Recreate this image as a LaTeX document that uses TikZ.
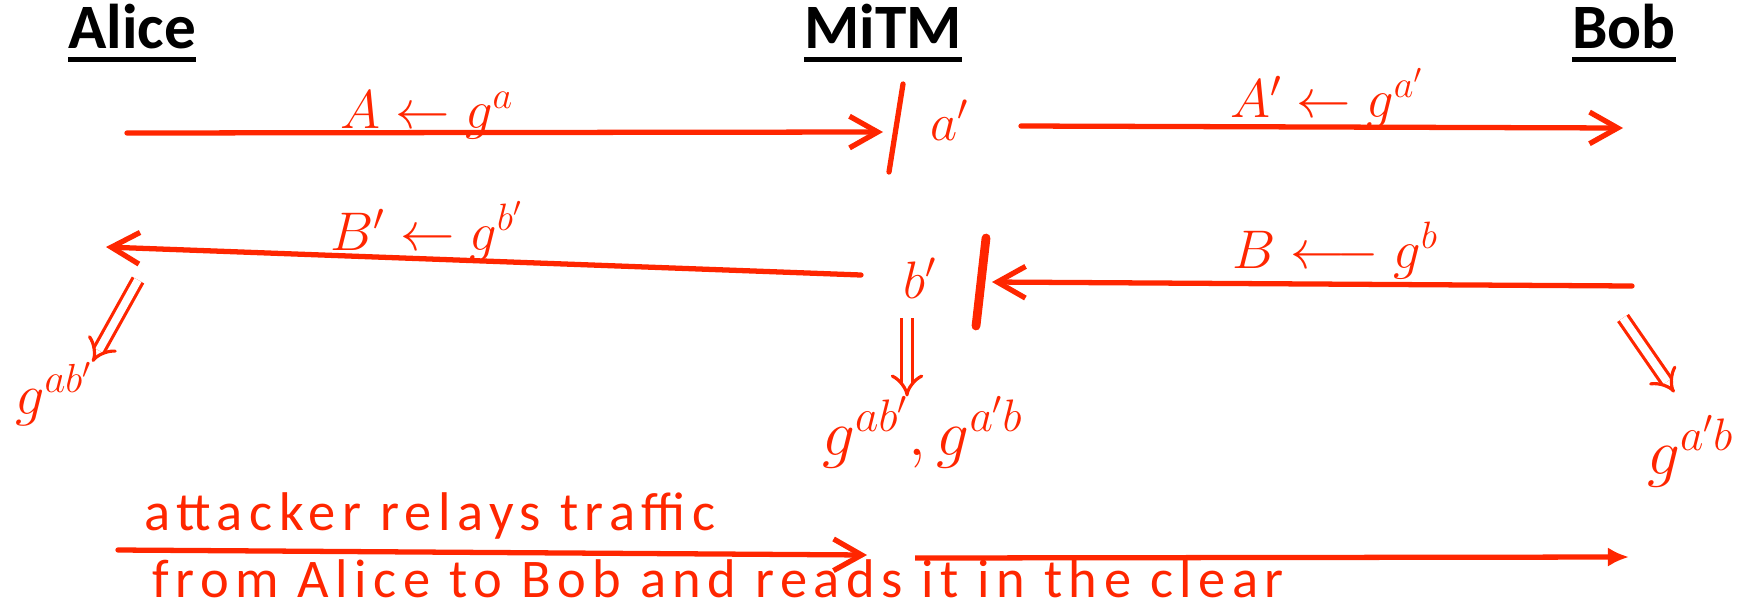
\documentclass[tikz,border=0pt]{standalone}
\usepackage{fix-cm}
\usepackage{fontspec}
\setmainfont{Carlito}
\usetikzlibrary{arrows.meta}
\definecolor{penRed}{RGB}{255,38,0}

\begin{document}
\begin{tikzpicture}[x=0.02cm, y=-0.02cm,
  head/.style={font=\fontsize{36}{40}\selectfont\bfseries, anchor=base west, inner sep=0pt},
  uline/.style={line width=3pt},
  ink/.style={text=penRed, font=\fontsize{31}{37}\selectfont, anchor=base west, inner sep=0pt},
  key/.style={ink, font=\fontsize{30}{36}\selectfont},
  shared/.style={ink, font=\fontsize{37}{42}\selectfont},
  note/.style={text=penRed, font=\fontsize{31}{37}\selectfont\addfontfeature{LetterSpace=12}, anchor=base west, inner sep=0pt},
  msg/.style={draw=penRed, line width=3pt, line cap=round, -{Straight Barb[length=16pt,width=18pt]}},
  cut/.style={draw=penRed, line width=3pt, line cap=round},
  derive/.style={draw=penRed, line width=1.8pt, double distance=4.5pt, -{Implies}},
]
  \useasboundingbox (0,0) rectangle (1763,613);

  % parties
  \node[head] (alice) at (68,48)   {Alice};
  \node[head] (mitm)  at (804,48)  {MiTM};
  \node[head] (bob)   at (1572,48) {Bob};
  \foreach \p in {alice, mitm, bob}
    \draw[uline] ([yshift=-6.5pt]\p.base west) -- ([yshift=-6.5pt]\p.base east);

  % exchange with Alice
  \coordinate (aliceOut) at (127,133);
  \coordinate (mitmIn)   at (883,132);
  \coordinate (mitmOut)  at (861,275);
  \coordinate (aliceIn)  at (106,247);
  \node[ink] (sendA)  at (340,128) {$A \leftarrow g^{a}$};
  \node[ink] (sendBp) at (330,250) {$B' \leftarrow g^{b'}$};
  \draw[msg] (aliceOut) -- (mitmIn);
  \draw[msg] (mitmOut) -- (aliceIn);

  % exchange with Bob
  \coordinate (mitmOut2) at (1021,126);
  \coordinate (bobIn)    at (1623,128);
  \coordinate (bobOut)   at (1632,286);
  \coordinate (mitmIn2)  at (992,282);
  \node[ink] (sendAp) at (1230,117) {$A' \leftarrow g^{a'}$};
  \node[ink] (sendB)  at (1232,268) {$B \longleftarrow g^{b}$};
  \draw[msg] (mitmOut2) -- (bobIn);
  \draw[msg] (bobOut) -- (mitmIn2);

  % attacker cuts both lines
  \node[key] (keyAp) at (930,140) {$a'$};
  \node[key] (keyBp) at (903,298) {$b'$};
  \draw[cut] (903,84) -- (889,172);
  \draw[cut, line width=5pt] (986,238) -- (976,326);

  % shared keys
  \node[shared, font=\fontsize{33}{38}\selectfont] (kAlice) at (15,414) {$g^{ab'}$};
  \node[shared] (kMitm)  at (822,455)  {$g^{ab'}, g^{a'b}$};
  \node[shared] (kBob)   at (1647,474) {$g^{a'b}$};
  \coordinate (aliceKey) at (138,280);
  \coordinate (mitmKey)  at (907,318);
  \coordinate (bobKey)   at (1623,318);
  \draw[derive] (aliceKey) -- (kAlice.north east);
  \draw[derive] (mitmKey) -- (kMitm.north -| mitmKey);
  \draw[derive, shorten >=16pt] (bobKey) -- (kBob.north);

  % relay
  \coordinate (relayA) at (118,550);
  \coordinate (relayM) at (867,555);
  \coordinate (relayN) at (915,558);
  \coordinate (relayB) at (1629,557);
  \draw[msg] (relayA) -- (relayM);
  \draw[draw=penRed, line width=3pt, -{Latex[length=12pt,width=11pt]}] (relayN) -- (relayB);
  \node[note] (relay1) at (144,530) {attacker relays traffic};
  \node[note] (relay2) at (152,597) {from Alice to Bob and reads it in the clear};
\end{tikzpicture}
\end{document}
